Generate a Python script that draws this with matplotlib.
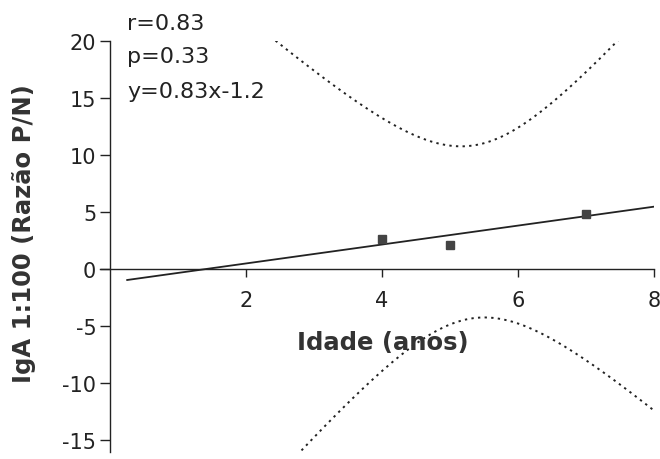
import numpy as np
import matplotlib
matplotlib.use("Agg")
import matplotlib.pyplot as plt

plt.rcParams["font.family"] = ["DejaVu Sans"]
plt.rcParams["axes.unicode_minus"] = False

# Age (years) and IgA 1:100 P/N ratio
idade = [4, 5, 7]
iga = [2.57, 2.04, 4.80]

# Reported fit statistics
r_val = 0.83
p_val = 0.33
slope = 0.83
intercept = -1.2

# Student t critical value (95%, df = n - 2 = 1)
t_crit = 12.706

x_ticks = [2, 4, 6, 8]
y_ticks = [-15, -10, -5, 0, 5, 10, 15, 20]

fig = plt.figure(figsize=(6.6, 4.6), dpi=100)
ax = fig.add_axes([100 / 660, 1 - 453.2 / 460, 554 / 660, 411.5 / 460])
ax.set_xlim(-0.15, 8)
ax.set_ylim(-16.1, 20)

ink = "#222222"

# Regression line and 95% confidence band of the mean
x = np.asarray(idade, float)
y = np.asarray(iga, float)
n = len(x)
xm = x.mean()
sxx = ((x - xm) ** 2).sum()
resid = y - (slope * x + intercept)
s = np.sqrt((resid ** 2).sum() / (n - 2))

xl = np.linspace(0.25, 8, 400)
yl = slope * xl + intercept
half = t_crit * s * np.sqrt(1 / n + (xl - xm) ** 2 / sxx)

ax.plot(xl, yl, color=ink, lw=1.3, zorder=3)
ax.plot(xl, yl + half, color=ink, lw=1.4, ls=(0, (1.2, 2.2)), zorder=2)
ax.plot(xl, yl - half, color=ink, lw=1.4, ls=(0, (1.2, 2.2)), zorder=2)
ax.plot(idade, iga, "s", color="#444444", ms=5.4, zorder=4)

# Axes crossing at the origin
for side in ("top", "right"):
    ax.spines[side].set_visible(False)
ax.spines["left"].set_position(("data", 0))
ax.spines["bottom"].set_position(("data", 0))
for side in ("left", "bottom"):
    ax.spines[side].set_linewidth(1.0)
    ax.spines[side].set_color(ink)

ax.set_xticks(x_ticks)
ax.set_yticks(y_ticks)
ax.set_xticklabels([str(v) for v in x_ticks])
ax.set_yticklabels([str(v) for v in y_ticks])
ax.tick_params(axis="x", direction="out", length=6, width=1.0, pad=9,
               labelsize=15, colors=ink)
ax.tick_params(axis="y", direction="out", length=7, width=1.0, pad=3,
               labelsize=15, colors=ink)

fig.text(383 / 660, 1 - 343 / 460, "Idade (anos)", ha="center", va="center",
         fontsize=17.5, fontweight="bold", color="#333333")
fig.text(24 / 660, 1 - 234 / 460, "IgA 1:100 (Razão P/N)", ha="center",
         va="center", rotation=90, fontsize=17.5, fontweight="bold",
         color="#333333")

stats = [f"r={r_val:.2f}", f"p={p_val:.2f}", f"y={slope:.2f}x{intercept:+.1f}"]
for txt, base in zip(stats, [30, 63, 98]):
    fig.text(127 / 660, 1 - base / 460, txt, ha="left", va="baseline",
             fontsize=16, color=ink)

fig.savefig("out.png", dpi=100, facecolor="white")
